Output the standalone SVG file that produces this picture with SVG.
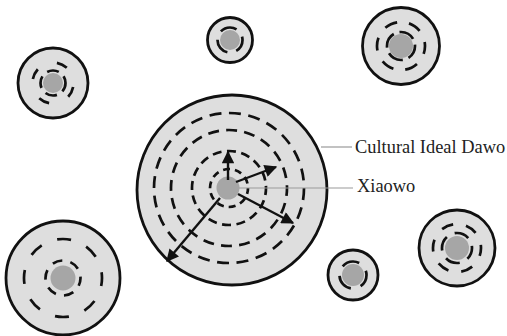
<svg xmlns="http://www.w3.org/2000/svg" width="507" height="336" viewBox="0 0 507 336">
<style>
.outer{fill:#dedede;stroke:#111;stroke-width:2.8}
.core{fill:#a6a6a6;stroke:none}
.ring{fill:none;stroke:#111;stroke-width:2.7}
.arrow{fill:none;stroke:#111;stroke-width:2.4;marker-end:url(#ah)}
.leader{stroke:#9a9a9a;stroke-width:1.2;fill:none}
.lbl{font-family:"Liberation Serif","Times New Roman",serif;font-size:18.4px;fill:#222}
</style>
<defs>
<marker id="ah" viewBox="0 0 10 10" refX="9" refY="5" markerWidth="6.3" markerHeight="5.2" orient="auto" markerUnits="strokeWidth">
<path d="M0,0 L10,5 L0,10 z" fill="#111"/>
</marker>
</defs>
<rect width="507" height="336" fill="#fff"/>

<g id="node-topleft">
<circle class="outer" cx="53" cy="83" r="35"/>
<circle class="core" cx="53" cy="83" r="10"/>
<circle class="ring" cx="53" cy="83" r="12.5" stroke-dasharray="12 6.5" stroke-dashoffset="3"/>
<circle class="ring" cx="53" cy="83" r="20.5" stroke-dasharray="11 21" stroke-dashoffset="-4"/>
</g>

<g id="node-topcenter">
<circle class="outer" cx="230" cy="40" r="22.5"/>
<circle class="core" cx="230" cy="40" r="10"/>
<circle class="ring" cx="230" cy="40" r="12.5" stroke-dasharray="17 9.2" stroke-dashoffset="4"/>
</g>

<g id="node-topright">
<circle class="outer" cx="401" cy="46" r="38.5"/>
<circle class="core" cx="401" cy="46" r="12"/>
<circle class="ring" cx="401" cy="46" r="14" stroke-dasharray="16 6" stroke-dashoffset="2"/>
<circle class="ring" cx="401" cy="46" r="24" stroke-dasharray="13 12.1" stroke-dashoffset="5"/>
</g>

<g id="node-bottomleft">
<circle class="outer" cx="63" cy="278" r="57"/>
<circle class="core" cx="63" cy="278" r="12.5"/>
<circle class="ring" cx="63" cy="278" r="17.5" stroke-dasharray="10 8.3" stroke-dashoffset="2"/>
<circle class="ring" cx="63" cy="278" r="39" stroke-dasharray="14 16.6" stroke-dashoffset="6"/>
</g>

<g id="node-bottomcenter">
<circle class="outer" cx="353" cy="275" r="25"/>
<circle class="core" cx="353" cy="275" r="11"/>
<circle class="ring" cx="353" cy="275" r="13.5" stroke-dasharray="18 10.3" stroke-dashoffset="5"/>
</g>

<g id="node-bottomright">
<circle class="outer" cx="457" cy="248" r="38"/>
<circle class="core" cx="457" cy="248" r="12"/>
<circle class="ring" cx="457" cy="248" r="15" stroke-dasharray="15 8.6" stroke-dashoffset="3"/>
<circle class="ring" cx="457" cy="248" r="24" stroke-dasharray="12 13.1" stroke-dashoffset="4"/>
</g>

<g id="node-dawo">
<circle class="outer" cx="232" cy="190" r="95"/>
<circle class="ring" cx="229" cy="188" r="75" stroke-dasharray="12 7.6"/>
<circle class="ring" cx="229" cy="188" r="58" stroke-dasharray="11 7.2" stroke-dashoffset="3"/>
<circle class="ring" cx="229" cy="188" r="37" stroke-dasharray="9 5.5" stroke-dashoffset="2"/>
<circle class="ring" cx="229" cy="188" r="19" stroke-dasharray="7 5" stroke-dashoffset="1"/>
<circle class="core" cx="228" cy="188" r="11.5"/>
</g>

<g id="connectors">
<line class="leader" x1="321" y1="147" x2="352" y2="147"/>
<line class="leader" x1="239" y1="188" x2="353" y2="188"/>
<line class="arrow" x1="228" y1="180" x2="228" y2="152"/>
<line class="arrow" x1="236" y1="182" x2="276" y2="167"/>
<line class="arrow" x1="238" y1="194" x2="293" y2="223"/>
<line class="arrow" x1="220" y1="198" x2="167" y2="261"/>
</g>

<g id="labels">
<text class="lbl" x="355" y="153">Cultural Ideal Dawo</text>
<text class="lbl" x="357" y="192">Xiaowo</text>
</g>
</svg>
